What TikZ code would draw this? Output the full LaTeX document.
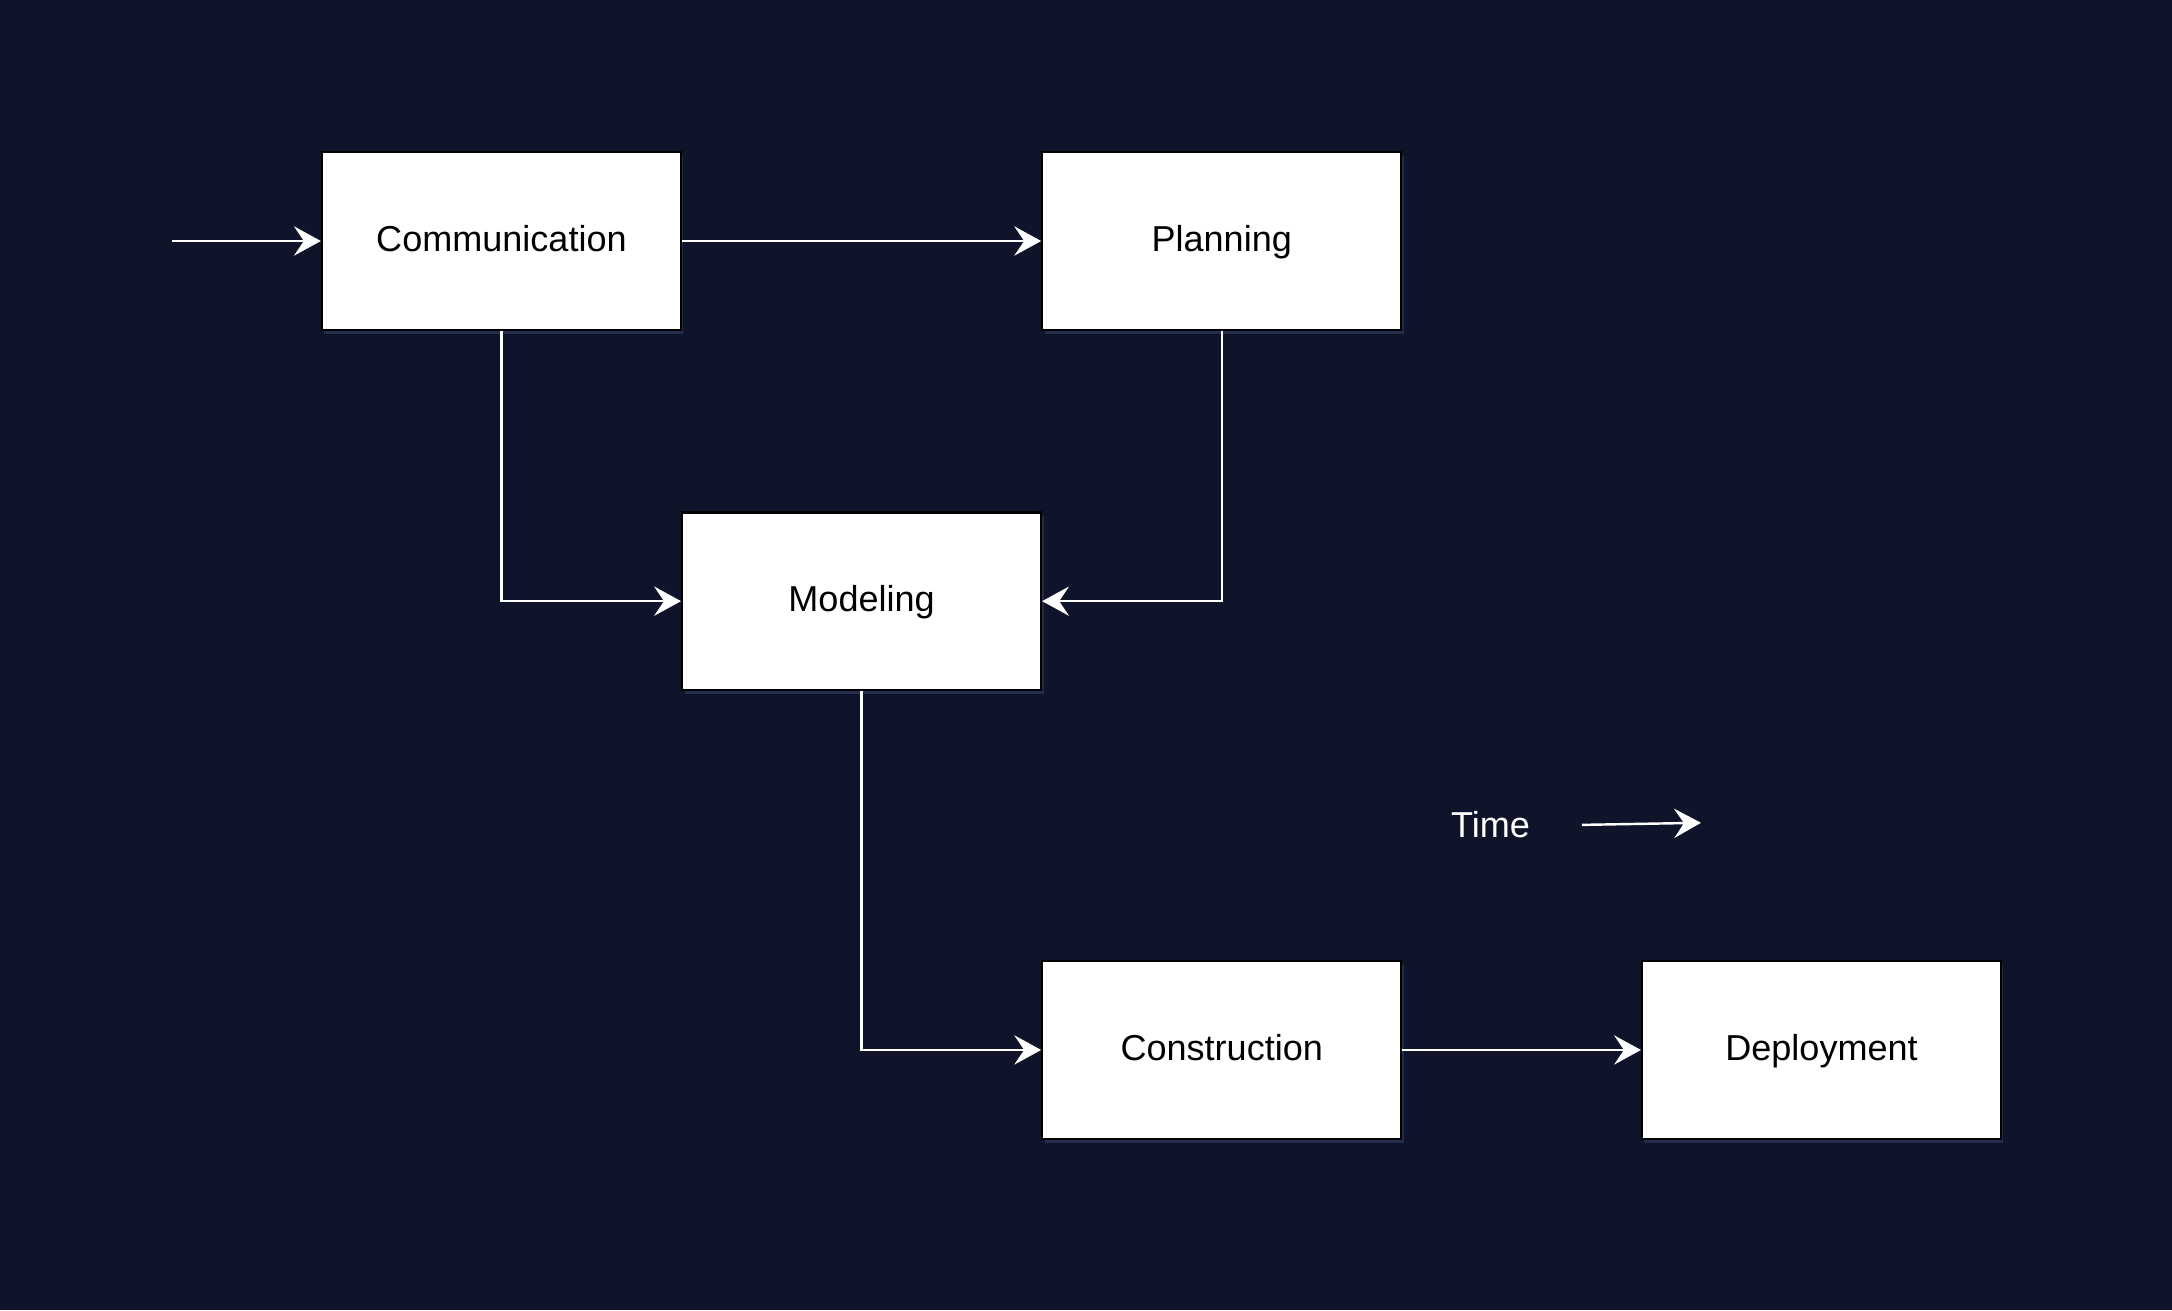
\documentclass[tikz,border=0pt]{standalone}
\usepackage{fontspec}
\setmainfont{Liberation Sans}
\usetikzlibrary{arrows.meta,shadows}
\definecolor{bg}{HTML}{10142A}
\definecolor{glow}{HTML}{2A3358}

\begin{document}
\begin{tikzpicture}[x=0.01cm,y=-0.01cm,
  phase/.style={draw=black,line width=0.45pt,fill=white,minimum width=2.59cm,minimum height=1.28cm,
    font=\fontsize{7.4}{9}\selectfont,text height=1.45ex,text depth=0.65ex,
    drop shadow={fill=glow,opacity=0.8,shadow xshift=0.5pt,shadow yshift=-0.8pt}},
  flow/.style={draw=white,line width=0.5pt,-{Stealth[length=5.5pt,width=6pt,inset=2pt]}}]
   \fill[bg] (0,0) rectangle (1568,946);
%
      \node [phase] at (362,174) (comm) {Communication};
       \node [phase] at (882,174) (plan) {Planning};
        \node [phase] at (622,434) (model) {Modeling};
         \node [phase] at (882,758) (constr) {Construction};
          \node [phase] at (1315,758) (deploy) {Deployment};
%
      \coordinate (start) at (124,174);
      \node [white,font=\fontsize{7.4}{9}\selectfont] at (1076,595) (time) {Time};
      \coordinate (time a) at (1142,595.5);
      \coordinate (time b) at (1228,594);
%
\path[flow] (start) -- (comm);
\path[flow] (comm) -- (plan);
\path[flow] (comm) |- (model);
\path[flow] (plan) |- (model);
\path[flow] (model) |- (constr);
\path[flow] (constr) -- (deploy);
\path[flow] (time a) -- (time b);

\end{tikzpicture}
\end{document}
